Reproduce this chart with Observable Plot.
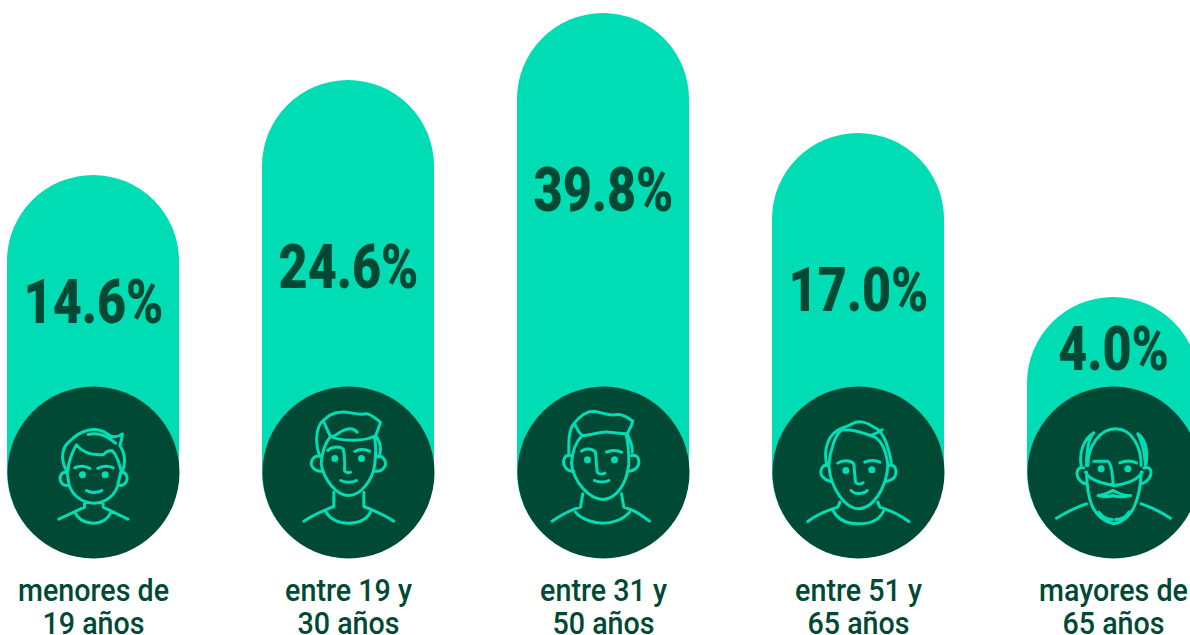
<!DOCTYPE html>
<html lang="es">
<head>
<meta charset="utf-8">
<title>Edades</title>
<style>
html,body{margin:0;padding:0;background:#fff;overflow:hidden}
svg{display:block}
</style>
<script src="https://cdn.jsdelivr.net/npm/d3@7"></script>
<script src="https://cdn.jsdelivr.net/npm/@observablehq/plot@0.6"></script>
</head>
<body>
<div id="chart"></div>
<script>
const categories = ["menores de\n19 años", "entre 19 y\n30 años", "entre 31 y\n50 años", "entre 51 y\n65 años", "mayores de\n65 años"];
const values = [14.6, 24.6, 39.8, 17.0, 4.0];
const valueLabels = ["14.6%", "24.6%", "39.8%", "17.0%", "4.0%"];
// The pictured bars are not proportional to the values: these stops reproduce its own scale.
const yDomain = [0, 4, 14.6, 17, 24.6, 39.8];
const yRange = [558, 297, 175, 133, 80, 13];
// Height on that scale at which each percentage is centred
const labelLevels = [3.91, 6.52, 13.21, 4.52, 3.20];

// Face line-art, in 3x pixels around [cx, cy]. "O x y" is a solid eye.
const faces = [
  {c:[159,186], d:`M78 180C60 150 62 110 90 90C120 60 165 45 200 70C215 82 230 82 246 70C243 90 240 100 238 105C255 130 255 160 245 185
    M82 180C85 150 95 125 108 103C125 125 155 135 190 132C195 125 205 120 215 120C225 130 235 150 243 185
    M143 72C170 65 200 75 225 98
    M80 187C60 180 55 205 62 215C68 225 78 226 86 224M80 187L86 224
    M240 187C258 180 265 205 255 217C248 226 240 226 232 224M240 187L232 224
    M86 224C95 250 120 278 160 278C200 278 225 250 232 224
    M132 272L132 290L55 326M188 272L188 290L262 326
    M103 305C115 330 140 338 160 338C180 338 200 330 212 305
    M103 172C115 165 135 165 148 174M172 174C185 165 205 165 218 172
    M138 240C150 248 170 248 184 240 O126 193 O194 193`},
  {c:[159,216], d:`M72 165C58 130 62 85 78 65C95 50 110 35 135 35C160 32 185 45 210 40C225 38 240 55 255 65C250 80 245 95 240 105C255 125 258 150 250 170
    M85 65C95 85 100 100 105 108C120 112 135 85 165 85C175 85 180 90 185 95
    M105 108C130 120 200 125 235 108
    M105 108C90 125 80 150 77 190M235 108C245 130 240 160 238 190
    M76 168C55 160 42 185 50 198C58 212 70 213 82 212
    M242 168C262 160 275 185 268 198C258 214 245 213 238 212
    M77 190C85 240 125 285 160 285C195 285 232 240 238 190
    M115 275L115 318C85 330 50 345 25 362M205 275L205 318C235 330 270 345 295 362
    M92 335C110 365 145 368 160 368C175 368 210 365 225 335
    M97 150C105 140 130 135 143 145C147 160 148 195 147 210C150 217 160 218 165 215
    M178 153C190 145 210 145 222 152
    M136 240C150 247 170 247 183 240 O118 174 O198 174`},
  {c:[174,216], d:`M70 160C70 130 68 90 85 70C100 50 120 32 145 32C170 35 190 48 215 42C235 40 250 55 262 62C258 80 250 90 245 100C255 120 262 140 260 155
    M88 72C95 85 102 100 110 105C140 105 160 92 190 95C210 97 230 100 245 100
    M110 105C90 125 80 150 78 190M242 103C250 130 250 160 250 190
    M76 165C55 160 50 185 58 198C65 210 75 213 85 212
    M258 165C280 160 285 185 275 200C265 212 255 212 245 212
    M78 190C85 245 130 295 172 297C215 295 245 245 250 190
    M112 280L105 320C70 330 45 345 20 362M228 280L235 320C270 330 290 345 312 362
    M90 335C110 360 150 368 172 368C195 368 230 360 252 335
    M108 152C120 143 140 143 150 155L155 215C160 222 170 222 178 218
    M183 155C195 148 215 148 228 155
    M147 240C160 246 180 246 190 240 O126 178 O207 178`},
  {c:[174,186], d:`M78 160C70 120 80 80 110 60C125 50 140 50 155 40C175 28 200 35 220 50C235 55 250 75 260 105C265 125 272 140 272 160
    M85 165C88 120 105 70 125 58C165 55 190 70 210 75C225 70 235 65 245 58
    M210 75C240 80 258 120 262 165
    M82 165C62 160 55 190 68 200C78 212 90 212 95 215
    M264 165C290 160 290 190 280 202C270 212 258 212 252 215
    M85 165C90 235 135 295 175 295C215 295 258 235 262 165
    M118 275L112 290C80 300 45 315 22 333M232 275L238 290C270 300 300 315 325 333
    M98 300C115 335 150 340 175 340C200 340 235 335 250 300
    M112 158C125 148 150 148 160 160L165 215C170 222 180 222 188 217
    M193 155C205 148 225 148 238 155
    M152 240C160 252 190 252 200 240 O136 180 O214 178`},
  {c:[189,171], d:`M112 150C112 90 150 40 195 40C245 40 272 95 272 150
    M92 150C85 110 100 70 130 52C112 70 108 110 108 150
    M262 55C285 70 295 110 285 150C282 120 280 90 262 55
    M100 157C80 150 75 175 85 190C92 200 100 205 108 205
    M280 157C305 150 305 175 295 190C285 200 278 205 270 205
    M105 170C115 190 140 200 190 210C230 205 260 195 275 170
    M108 170C110 240 120 310 190 325C250 315 270 240 272 170
    M145 290C155 305 170 312 185 312M235 290C228 305 210 312 195 312
    M143 240C165 240 175 230 187 225C200 230 215 242 240 240C220 245 200 245 187 240C175 245 160 245 143 240
    M130 137L170 137C180 140 185 160 188 208
    M208 142C225 135 245 135 258 142
    M108 265C75 275 40 295 18 308M272 265C305 275 340 295 360 308 O152 160 O232 160`}
];

const bright = "#00dcb4";
const dark = "#004a35";
const fontFamily = "Roboto,'Liberation Sans',sans-serif";

function faceSymbol({c: [cx, cy], d}) {
  const tokens = d.match(/[MLCO]|-?\d+(?:\.\d+)?/g);
  return {
    draw(ctx) {
      const X = (v) => (v - cx) / 3, Y = (v) => (v - cy) / 3;
      let i = 0;
      const n = () => +tokens[i++];
      let cmd = null;
      while (i < tokens.length) {
        if (/[MLCO]/.test(tokens[i])) cmd = tokens[i++];
        if (cmd === "M") { const x = n(), y = n(); ctx.moveTo(X(x), Y(y)); cmd = "L"; }
        else if (cmd === "L") { const x = n(), y = n(); ctx.lineTo(X(x), Y(y)); }
        else if (cmd === "C") { const a = n(), b = n(), e = n(), f = n(), g = n(), h = n(); ctx.bezierCurveTo(X(a), Y(b), X(e), Y(f), X(g), Y(h)); }
        else if (cmd === "O") {
          const x = X(n()), y = Y(n());
          for (const r of [2.0, 0.9]) { ctx.moveTo(x + r, y); ctx.arc(x, y, r, 0, 2 * Math.PI); }
        }
      }
    }
  };
}

const rows = categories.map((category, i) => ({category, value: values[i], label: valueLabels[i], level: labelLevels[i]}));

// No condensed face is installed, so the type is narrowed to the reference's widths.
const narrow = (sx) => (index, scales, channels, dimensions, context, next) => {
  const g = next(index, scales, channels, dimensions, context);
  d3.select(g).selectAll("text").attr("transform", function () {
    return `${this.getAttribute("transform") || ""} scale(${sx},1)`;
  });
  return g;
};

const chart = Plot.plot({
  width: 1190,
  height: 635,
  margin: 0,
  style: {background: "#fff", fontFamily},
  x: {type: "band", domain: categories, range: [7, 1199], paddingInner: 83 / 255, paddingOuter: 0, round: false, axis: null},
  y: {type: "linear", domain: yDomain, range: yRange, axis: null},
  marks: [
    Plot.barY(rows, {x: "category", y: "value", fill: bright, rx: 86}),
    Plot.dot(rows, {x: "category", y: 0, dy: -86, r: 86, fill: dark, stroke: "none"}),
    ...rows.map((row, i) => Plot.dot([row], {
      x: "category", y: 0, dy: -86,
      symbol: faceSymbol(faces[i]), fill: "none", stroke: bright,
      strokeWidth: 3, strokeLinecap: "round", strokeLinejoin: "round"
    })),
    Plot.text(rows, {x: "category", y: "level", text: "label", fill: dark, fontSize: 62, fontWeight: 900, lineAnchor: "middle", render: narrow(0.81)}),
    Plot.text(rows, {x: "category", y: 0, dy: 19, text: "category", fill: dark, fontSize: 32, fontWeight: 500, lineHeight: 1.03, lineAnchor: "top", render: narrow(0.895)})
  ]
});
document.getElementById("chart").append(chart);
</script>
</body>
</html>
